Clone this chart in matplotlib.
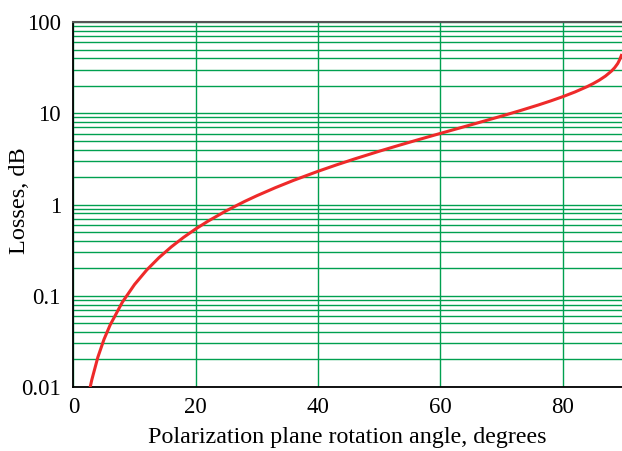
import matplotlib
matplotlib.use("Agg")
import matplotlib.pyplot as plt
from matplotlib.ticker import LogLocator, NullFormatter

angles = [2.75, 3, 4, 5, 6, 8, 10, 12, 14, 16, 18, 20, 22, 25, 28, 30, 33, 36,
          40, 43, 46, 50, 53, 56, 60, 63, 66, 70, 73, 76, 78, 80, 82, 84, 85,
          86, 87, 88, 88.5, 89, 89.3, 89.6]
losses = [0.01, 0.0119, 0.0212, 0.0332, 0.0477, 0.0849, 0.1329, 0.1919, 0.2619,
          0.3432, 0.4359, 0.5403, 0.6567, 0.8546, 1.0815, 1.2494, 1.528, 1.841,
          2.315, 2.718, 3.165, 3.839, 4.411, 5.049, 6.021, 6.859, 7.814, 9.319,
          10.681, 12.327, 13.643, 15.207, 17.129, 19.615, 21.194, 23.128, 25.624,
          29.143, 31.64, 35.163, 38.5, 43.1]
x_ticks = [0, 20, 40, 60, 80]
y_ticks = [0.01, 0.1, 1, 10, 100]
y_tick_labels = ["0.01", "0.1", "1", "10", "100"]

plt.rcParams['font.family'] = ['Liberation Serif', 'DejaVu Serif']

fig = plt.figure(figsize=(6.22, 4.51), dpi=100)
ax = fig.add_axes([0.118, 0.142, 0.882, 0.809])

ax.set_yscale('log')
ax.set_xlim(0, 89.7)
ax.set_ylim(0.01, 100)

grid_color = '#00a050'
ax.set_xticks(x_ticks)
ax.set_yticks(y_ticks)
ax.set_yticklabels(y_tick_labels)
ax.yaxis.set_minor_locator(LogLocator(base=10, subs=range(2, 10)))
ax.yaxis.set_minor_formatter(NullFormatter())
ax.grid(True, which='both', axis='y', color=grid_color, linewidth=1.0)
ax.grid(True, which='major', axis='x', color=grid_color, linewidth=1.0)
ax.set_axisbelow(True)

ax.plot(angles, losses, color='#ee2a2a', linewidth=2.2, zorder=3, clip_on=True)

ax.tick_params(which='both', length=0, labelsize=16.5)
ax.tick_params(axis='y', pad=9)
ax.tick_params(axis='x', pad=7)
ax.spines['right'].set_visible(False)
ax.spines['top'].set_color('#555555')
ax.spines['top'].set_linewidth(1.5)
ax.spines['left'].set_linewidth(1.3)
ax.spines['bottom'].set_linewidth(1.3)

ax.set_xlabel('Polarization plane rotation angle, degrees', fontsize=17.3, labelpad=7)
ax.set_ylabel('Losses, dB', fontsize=17.5)
ax.yaxis.set_label_coords(-0.079, 0.51)

fig.savefig('out.png', dpi=100)
